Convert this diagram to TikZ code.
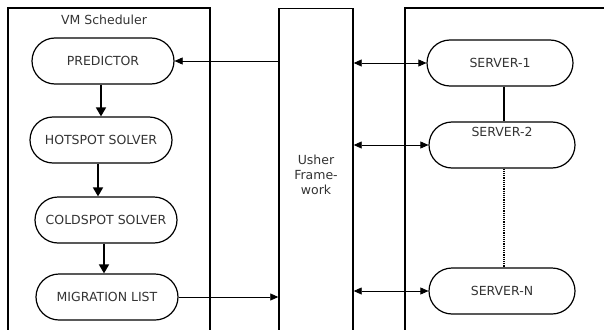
\documentclass[tikz,border=0pt]{standalone}
\usepackage{fontspec}
\setmainfont{DejaVu Sans}
\usetikzlibrary{arrows.meta,shapes.misc,calc}

\begin{document}
\begin{tikzpicture}[x=1pt,y=-1pt,
  font=\fontsize{12.5}{15}\selectfont,
  >={Triangle[length=8pt,width=7pt]},
  frame/.style={draw,line width=1.4pt},
  stage/.style={draw,rounded rectangle,line width=1.2pt,text=black!80,
    minimum width=146pt,minimum height=46pt,inner sep=2pt},
  server/.style={stage,minimum width=150pt},
  flow/.style={->,line width=1.7pt,>={Triangle[length=9pt,width=10pt]}},
  link/.style={->,line width=0.7pt}]
  \useasboundingbox (0,0) rectangle (604,329);
  % containers
  \draw[frame] (8,345) |- (210,8) -- (210,345);
  \node[frame,minimum width=74pt,minimum height=337pt,anchor=north,inner sep=0pt] (usher) at (316,8) {};
  \node[text=black!80,align=center] (usherlbl) at (316,175) {Usher\\Frame-\\work};
  \draw[frame] (405,345) |- (620,8);
  \node[text=black!80] (title) at (104,20) {VM Scheduler};
  % scheduler pipeline
  \node[stage] (predictor) at (103,61) {PREDICTOR};
  \node[stage] (hotspot) at (101,140) {HOTSPOT SOLVER};
  \node[stage] (coldspot) at (106,220) {COLDSPOT SOLVER};
  \node[stage] (migration) at (107,297) {MIGRATION LIST};
  \draw[flow] (hotspot.north |- predictor.south) -- (hotspot.north);
  \draw[flow] (hotspot.south -| 98,0) -- (coldspot.north -| 98,0);
  \draw[flow] (coldspot.south -| 104,0) -- (migration.north -| 104,0);
  \draw[link] (usher.west |- predictor.east) -- (predictor.east);
  \draw[link] (migration.east) -- (migration.east -| usher.west);
  % servers
  \node[server] (server1) at (500,63) {SERVER-1};
  \node[server,label={[anchor=center,yshift=-11pt,text=black!80]north:SERVER-2}] (server2) at (502,145) {};
  \node[server] (serverN) at (502,291) {SERVER-N};
  \draw[line width=1.2pt] (server1.south -| 504,0) -- (server2.north -| 504,0);
  \draw[line width=1.2pt,densely dotted] (server2.south -| 504,0) -- (serverN.north -| 504,0);
  \draw[link,<->] (usher.east |- server1.west) -- (server1.west);
  \draw[link,<->] (usher.east |- server2.west) -- (server2.west);
  \draw[link,<->] (usher.east |- serverN.west) -- (serverN.west);
\end{tikzpicture}
\end{document}
